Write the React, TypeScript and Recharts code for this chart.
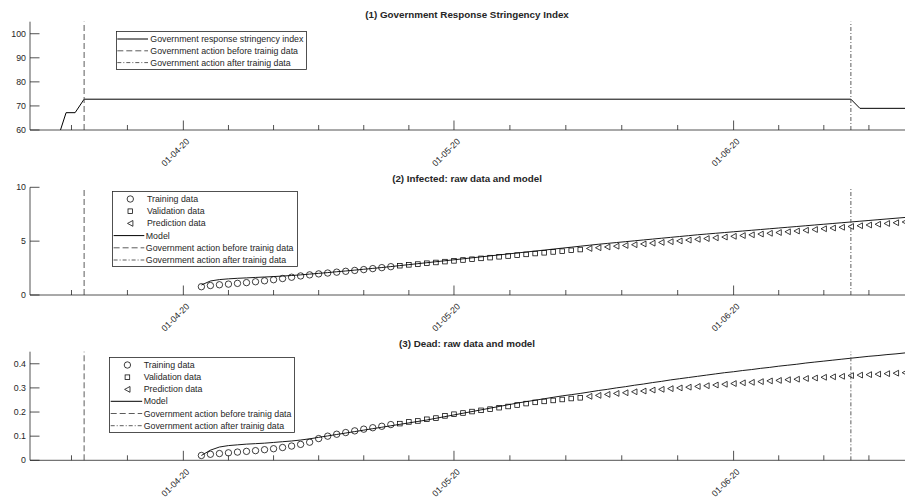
import React from 'react';
import { ComposedChart, Line, Scatter, XAxis, YAxis, ReferenceLine, Legend } from 'recharts';

const FONT = '"Liberation Sans", Arial, Helvetica, sans-serif';
const TEXT = '#262626';
const AXIS = '#262626';
const REFC = '#4a4a4a';

// x values: days since 01-04-2020
const xDomain = [-17, 80];
const xTicks = [-12.4, -6.2, 0, 5, 10, 15, 20, 25, 30, 36.2, 42.4, 48.6, 54.8, 61, 66, 71, 76];
const xMajorTicks = [0, 30, 61];
const xMajorLabels = ['01-04-20', '01-05-20', '01-06-20'];
const actionBeforeDay = -11;
const actionAfterDay = 74;

// (1) Stringency index (breakpoints of the step series)
const stringencyDays = [-17, -14, -13, -12, -11, 74, 75, 80];
const stringencyValues = [50.0, 55.6, 67.2, 67.2, 72.8, 72.8, 69.0, 69.0];
const stringencyTicks = [60, 70, 80, 90, 100];

// Day categories
const trainingDays = [2, 3, 4, 5, 6, 7, 8, 9, 10, 11, 12, 13, 14, 15, 16, 17, 18, 19, 20, 21, 22, 23];
const validationDays = [24, 25, 26, 27, 28, 29, 30, 31, 32, 33, 34, 35, 36, 37, 38, 39, 40, 41, 42, 43, 44];
const predictionDays = [45, 46, 47, 48, 49, 50, 51, 52, 53, 54, 55, 56, 57, 58, 59, 60, 61, 62, 63, 64, 65, 66, 67, 68, 69, 70, 71, 72, 73, 74, 75, 76, 77, 78, 79, 80];
const modelDays = [...trainingDays, ...validationDays, ...predictionDays];

// (2) Infected
const infectedTraining = [0.77, 0.88, 0.95, 1.01, 1.08, 1.15, 1.23, 1.32, 1.42, 1.53, 1.65, 1.77, 1.87, 1.96, 2.04, 2.12, 2.20, 2.28, 2.36, 2.45, 2.54, 2.63];
const infectedValidation = [2.72, 2.80, 2.87, 2.95, 3.02, 3.10, 3.17, 3.25, 3.32, 3.40, 3.47, 3.55, 3.62, 3.70, 3.77, 3.85, 3.92, 4.00, 4.07, 4.15, 4.22];
const infectedPrediction = [4.32, 4.39, 4.46, 4.53, 4.60, 4.67, 4.74, 4.81, 4.88, 4.95, 5.02, 5.10, 5.17, 5.24, 5.31, 5.38, 5.45, 5.52, 5.59, 5.66, 5.73, 5.80, 5.87, 5.94, 6.01, 6.08, 6.15, 6.22, 6.29, 6.36, 6.43, 6.50, 6.57, 6.64, 6.71, 6.78];
const infectedModel = [0.93, 1.30, 1.43, 1.50, 1.55, 1.59, 1.63, 1.67, 1.71, 1.76, 1.81, 1.87, 1.94, 2.01, 2.08, 2.16, 2.23, 2.31, 2.39, 2.47, 2.55, 2.64,
  2.73, 2.82, 2.91, 3.00, 3.09, 3.18, 3.27, 3.36, 3.45, 3.54, 3.63, 3.72, 3.81, 3.90, 3.99, 4.08, 4.17, 4.26, 4.35, 4.44, 4.53,
  4.62, 4.71, 4.79, 4.87, 4.95, 5.03, 5.11, 5.19, 5.27, 5.35, 5.43, 5.51, 5.59, 5.66, 5.73, 5.80, 5.87, 5.94, 6.01, 6.08, 6.15, 6.22, 6.29, 6.36, 6.43, 6.50, 6.57, 6.64, 6.71, 6.78, 6.85, 6.92, 6.99, 7.06, 7.13, 7.20];
const infectedTicks = [0, 5, 10];

// (3) Dead
const deadTraining = [0.020, 0.025, 0.028, 0.031, 0.034, 0.037, 0.040, 0.044, 0.048, 0.053, 0.059, 0.066, 0.075, 0.090, 0.100, 0.108, 0.115, 0.122, 0.129, 0.135, 0.141, 0.148];
const deadValidation = [0.152, 0.159, 0.163, 0.170, 0.175, 0.184, 0.191, 0.196, 0.202, 0.207, 0.212, 0.218, 0.223, 0.229, 0.235, 0.240, 0.244, 0.248, 0.252, 0.256, 0.259];
const deadPrediction = [0.265, 0.269, 0.273, 0.277, 0.280, 0.284, 0.287, 0.291, 0.294, 0.297, 0.300, 0.303, 0.306, 0.309, 0.312, 0.315, 0.318, 0.321, 0.323, 0.326, 0.329, 0.331, 0.334, 0.336, 0.339, 0.341, 0.344, 0.346, 0.348, 0.351, 0.353, 0.355, 0.357, 0.359, 0.361, 0.363];
const deadModel = [0.020, 0.042, 0.055, 0.061, 0.064, 0.067, 0.069, 0.071, 0.074, 0.077, 0.080, 0.084, 0.089, 0.095, 0.101, 0.107, 0.113, 0.119, 0.125, 0.131, 0.137, 0.143,
  0.149, 0.155, 0.161, 0.167, 0.174, 0.181, 0.188, 0.195, 0.202, 0.209, 0.216, 0.223, 0.230, 0.237, 0.243, 0.249, 0.255, 0.261, 0.267, 0.272, 0.277,
  0.283, 0.289, 0.294, 0.300, 0.305, 0.311, 0.316, 0.322, 0.327, 0.333, 0.338, 0.343, 0.348, 0.353, 0.358, 0.363, 0.367, 0.372, 0.376, 0.381, 0.385, 0.390, 0.394, 0.398, 0.403, 0.407, 0.411, 0.415, 0.419, 0.423, 0.427, 0.431, 0.434, 0.438, 0.441, 0.445];
const deadTicks = [0, 0.1, 0.2, 0.3, 0.4];

const titles = ['(1) Government Response Stringency Index', '(2) Infected: raw data and model', '(3) Dead: raw data and model'];
const legendStringency = ['Government response stringency index', 'Government action before trainig data', 'Government action after trainig data'];
const legendData = ['Training data', 'Validation data', 'Prediction data', 'Model', 'Government action before trainig data', 'Government action after trainig data'];

const pts = (days: number[], vals: number[]) => days.map((d, i) => ({ x: d, y: vals[i] }));

const XTick = (props: any) => {
  const { x, y, payload } = props;
  const idx = xMajorTicks.indexOf(payload.value);
  const major = idx >= 0;
  const lx = x + 4.5;
  const ly = y + 10;
  return (
    <g>
      <line x1={x} x2={x} y1={y} y2={y - (major ? 9.5 : 5)} stroke={AXIS} strokeWidth={0.8} />
      {major && (
        <text x={lx} y={ly} transform={`rotate(-45 ${lx} ${ly})`} textAnchor="end" dominantBaseline="central"
          fontSize={8.8} fill={TEXT} fontFamily={FONT}>{xMajorLabels[idx]}</text>
      )}
    </g>
  );
};

const makeYTick = (fmt: (v: number) => string) => (props: any) => {
  const { x, y, payload } = props;
  return (
    <g>
      <line x1={x} x2={x + 9.5} y1={y} y2={y} stroke={AXIS} strokeWidth={0.8} />
      <text x={x - 4} y={y} textAnchor="end" dominantBaseline="central" fontSize={8.8} fill={TEXT} fontFamily={FONT}>{fmt(payload.value)}</text>
    </g>
  );
};

const CircleMark = (p: any) => <circle cx={p.cx} cy={p.cy} r={3.2} fill="none" stroke="#000" strokeWidth={0.75} />;
const SquareMark = (p: any) => <rect x={p.cx - 2.3} y={p.cy - 2.3} width={4.6} height={4.6} fill="none" stroke="#000" strokeWidth={0.75} />;
const TriMark = (p: any) => (
  <polygon points={`${p.cx - 2.8},${p.cy} ${p.cx + 2.6},${p.cy - 2.9} ${p.cx + 2.6},${p.cy + 2.9}`} fill="none" stroke="#000" strokeWidth={0.75} />
);

const DASH = '6 3';
const DASHDOT = '4 2 1 2';

const LegendText = ({ x, y, t }: { x: number; y: number; t: string }) => (
  <text x={x} y={y} dominantBaseline="central" fontSize={8.8} fill={TEXT} fontFamily={FONT}>{t}</text>
);

const Legend1 = () => {
  const rows = [8, 19.8, 31.6];
  const dashes = [undefined, DASH, DASHDOT];
  return (
    <svg width={191} height={39} style={{ display: 'block' }}>
      <rect x={0.5} y={0.5} width={190} height={38} fill="#fff" stroke={AXIS} strokeWidth={0.8} />
      {rows.map((ry, i) => (
        <g key={i}>
          <line x1={1.3} x2={32} y1={ry} y2={ry} stroke={i === 0 ? '#000' : REFC} strokeWidth={i === 0 ? 1 : 0.9} strokeDasharray={dashes[i]} />
          <LegendText x={34.3} y={ry} t={legendStringency[i]} />
        </g>
      ))}
    </svg>
  );
};

const LegendData = ({ w, rows, mx, tx, l1, l2 }: { w: number; rows: number[]; mx: number; tx: number; l1: number; l2: number }) => {
  const marks = [CircleMark, SquareMark, TriMark];
  const dashes = [undefined, DASH, DASHDOT];
  return (
    <svg width={w} height={76} style={{ display: 'block' }}>
      <rect x={0.5} y={0.5} width={w - 1} height={75} fill="#fff" stroke={AXIS} strokeWidth={0.8} />
      {rows.map((ry, i) => {
        if (i < 3) {
          const M = marks[i];
          return (
            <g key={i}>
              <M cx={mx} cy={ry} />
              <LegendText x={tx} y={ry} t={legendData[i]} />
            </g>
          );
        }
        return (
          <g key={i}>
            <line x1={l1} x2={l2} y1={ry} y2={ry} stroke={i === 3 ? '#000' : REFC} strokeWidth={i === 3 ? 1 : 0.9} strokeDasharray={dashes[i - 3]} />
            <LegendText x={l2 + 1.5} y={ry} t={legendData[i]} />
          </g>
        );
      })}
    </svg>
  );
};

const Title = ({ t, cy }: { t: string; cy: number }) => (
  <div style={{ position: 'absolute', left: 467, top: cy - 6, transform: 'translateX(-50%)', whiteSpace: 'nowrap', fontSize: 9.8, fontWeight: 'bold', lineHeight: '12px', color: TEXT, fontFamily: FONT }}>{t}</div>
);

const commonX = (h: number) => (
  <XAxis type="number" dataKey="x" domain={xDomain} ticks={xTicks} interval={0} allowDataOverflow
    tickSize={0} tickMargin={0} tickLine={false} tick={<XTick />} height={h}
    axisLine={{ stroke: AXIS, strokeWidth: 0.8 }} />
);

const refLines = () => [
  <ReferenceLine key="rb" x={actionBeforeDay} stroke={REFC} strokeWidth={0.9} strokeDasharray={DASH} />,
  <ReferenceLine key="ra" x={actionAfterDay} stroke={REFC} strokeWidth={0.9} strokeDasharray={DASHDOT} />,
];

export default function App() {
  const stringency = pts(stringencyDays, stringencyValues);
  const infT = pts(trainingDays, infectedTraining);
  const infV = pts(validationDays, infectedValidation);
  const infP = pts(predictionDays, infectedPrediction);
  const infM = pts(modelDays, infectedModel);
  const deadT = pts(trainingDays, deadTraining);
  const deadV = pts(validationDays, deadValidation);
  const deadP = pts(predictionDays, deadPrediction);
  const deadM = pts(modelDays, deadModel);

  return (
    <div style={{ position: 'absolute', left: 0, top: 0, width: 909, height: 504, background: '#fff', overflow: 'hidden', fontFamily: FONT }}>
      <div style={{ position: 'absolute', left: 0, top: 0 }}>
        <ComposedChart width={909} height={170} margin={{ top: 21.7, right: 4, bottom: 0, left: 0 }}>
          {commonX(40)}
          <YAxis type="number" domain={[60, 105]} ticks={stringencyTicks} interval={0} allowDataOverflow width={30}
            tickSize={0} tickMargin={0} tickLine={false} tick={makeYTick((v) => String(v))} axisLine={{ stroke: AXIS, strokeWidth: 0.8 }} />
          <Line data={stringency} dataKey="y" type="linear" stroke="#000" strokeWidth={1} dot={false} isAnimationActive={false} />
          {refLines()}
          <Legend layout="horizontal" verticalAlign="middle" align="center" content={() => <Legend1 />}
            wrapperStyle={{ left: 116, top: 31, width: 191, height: 39 }} />
        </ComposedChart>
      </div>
      <div style={{ position: 'absolute', left: 0, top: 168 }}>
        <ComposedChart width={909} height={170} margin={{ top: 19.3, right: 4, bottom: 0, left: 0 }}>
          {commonX(43)}
          <YAxis type="number" domain={[0, 10]} ticks={infectedTicks} interval={0} allowDataOverflow width={30}
            tickSize={0} tickMargin={0} tickLine={false} tick={makeYTick((v) => String(v))} axisLine={{ stroke: AXIS, strokeWidth: 0.8 }} />
          <Scatter data={infT} dataKey="y" shape={CircleMark} isAnimationActive={false} />
          <Scatter data={infV} dataKey="y" shape={SquareMark} isAnimationActive={false} />
          <Scatter data={infP} dataKey="y" shape={TriMark} isAnimationActive={false} />
          <Line data={infM} dataKey="y" type="linear" stroke="#000" strokeWidth={0.9} dot={false} isAnimationActive={false} />
          {refLines()}
          <Legend layout="horizontal" verticalAlign="middle" align="center"
            content={() => <LegendData w={186} rows={[8, 20.2, 32.4, 44.6, 56.8, 69]} mx={18.3} tx={35} l1={1.6} l2={32.3} />}
            wrapperStyle={{ left: 111.7, top: 23, width: 186, height: 76 }} />
        </ComposedChart>
      </div>
      <div style={{ position: 'absolute', left: 0, top: 334 }}>
        <ComposedChart width={909} height={170} margin={{ top: 17.7, right: 4, bottom: 0, left: 0 }}>
          {commonX(43.7)}
          <YAxis type="number" domain={[0, 0.45]} ticks={deadTicks} interval={0} allowDataOverflow width={30}
            tickSize={0} tickMargin={0} tickLine={false} tick={makeYTick((v) => (v === 0 ? '0' : v.toFixed(1)))} axisLine={{ stroke: AXIS, strokeWidth: 0.8 }} />
          <Scatter data={deadT} dataKey="y" shape={CircleMark} isAnimationActive={false} />
          <Scatter data={deadV} dataKey="y" shape={SquareMark} isAnimationActive={false} />
          <Scatter data={deadP} dataKey="y" shape={TriMark} isAnimationActive={false} />
          <Line data={deadM} dataKey="y" type="linear" stroke="#000" strokeWidth={0.9} dot={false} isAnimationActive={false} />
          {refLines()}
          <Legend layout="horizontal" verticalAlign="middle" align="center"
            content={() => <LegendData w={186} rows={[8, 20.2, 32.4, 44.3, 56.5, 68.7]} mx={18.4} tx={34.7} l1={1.7} l2={33.2} />}
            wrapperStyle={{ left: 109.3, top: 23.3, width: 186, height: 76 }} />
        </ComposedChart>
      </div>
      <Title t={titles[0]} cy={15} />
      <Title t={titles[1]} cy={179.3} />
      <Title t={titles[2]} cy={344.3} />
    </div>
  );
}
